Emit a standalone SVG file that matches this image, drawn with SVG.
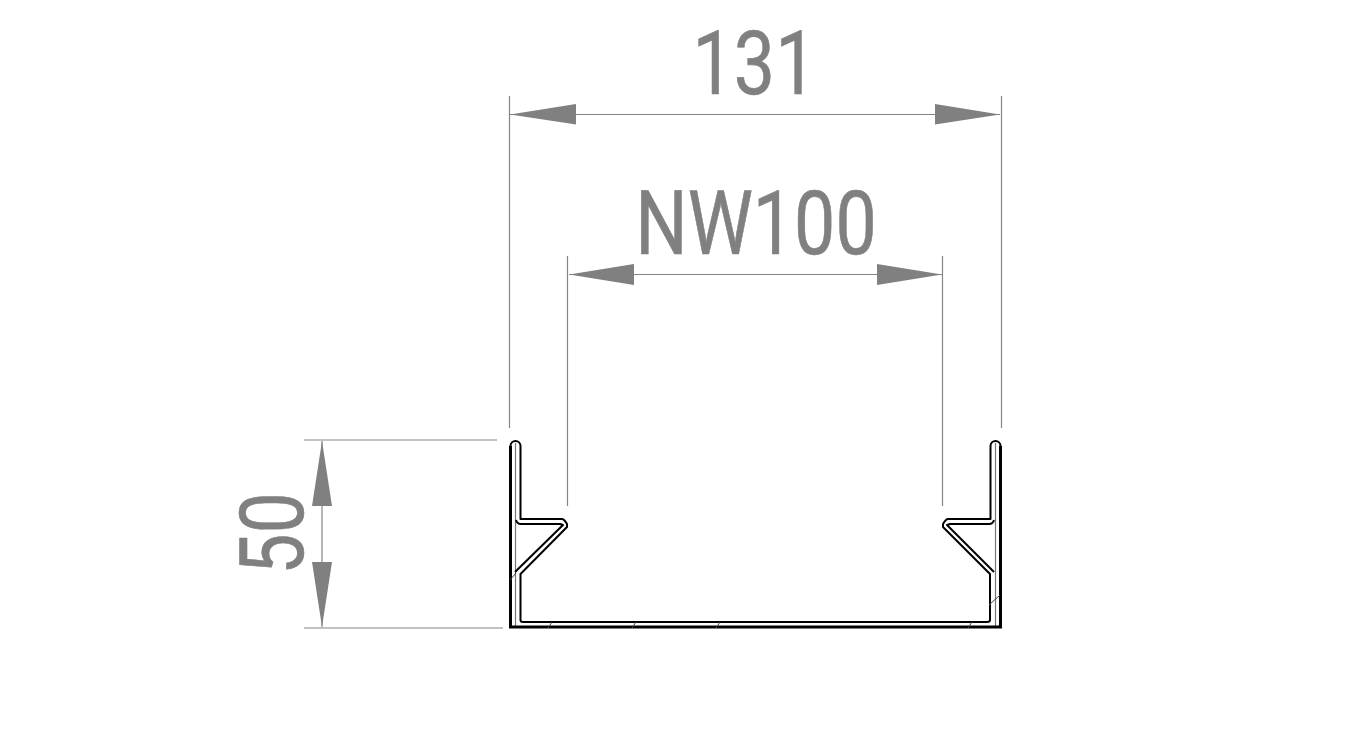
<svg xmlns="http://www.w3.org/2000/svg" width="1348" height="753" viewBox="0 0 1348 753">
<style>
.dim{stroke:#858585;stroke-width:1.200;fill:none}
.head{fill:#808080;stroke:none}
.t{font-family:Roboto,"Liberation Sans",Arial,sans-serif;font-size:89px;fill:#808080;stroke:#808080;stroke-width:.6;text-anchor:middle}
.k{stroke:#000;fill:none;stroke-width:2;stroke-linejoin:round}
.h{stroke:#000;fill:none;stroke-width:3}
.c{stroke:#000;fill:none;stroke-width:2}
.g{stroke:#777;fill:none;stroke-width:1.200}
.tick{stroke:#444;fill:none;stroke-width:1}
</style>
<rect width="1348" height="753" fill="#fff"/>
<g id="connectors">
<path class="dim" d="M509.500 96V428M1001.500 96V428M510 114.500H1000"/>
<path class="dim" d="M567.500 256V506M942.500 256V506M569 274.500H942"/>
<path class="dim" d="M304 440H497M304 628H503M322 441V627"/>
<path class="head" d="M510 114.500L576 104V124.500ZM1000 114.500L935 104V124.500Z"/>
<path class="head" d="M569 274.500L634 264V285ZM942 274.500L877 264V285Z"/>
<path class="head" d="M322 441L332 506H312ZM322 627L332 562H312Z"/>
</g>
<g id="label-131"><text class="t" transform="translate(754.500 94) scale(.825 1)">131</text></g>
<g id="label-nw100"><text class="t" transform="translate(756 254) scale(.825 1)">NW100</text></g>
<g id="label-50"><text class="t" transform="translate(302.500 533.500) rotate(-90) scale(.825 1)">50</text></g>
<g id="profile-left">
<path class="h" d="M510.500 627V446"/>
<path class="c" d="M510.500 446A5 5 0 0 1 520.500 446"/>
<path class="g" d="M515.500 443V627"/>
<path class="k" d="M520.500 446V519H562Q564 519 567 524V527L520.500 574V620Q520.500 622 523 622H755"/>
<path class="k" d="M516 520Q517 524 521 524H560L563 525L515 572"/>
<path class="h" d="M509 627H755"/>
<path class="tick" d="M510 580L516 573M548 628L552 622M632 628L636 622M716 628L720 622"/>
</g>
<g id="profile-right">
<path class="h" d="M1000.500 627V446"/>
<path class="c" d="M1000.500 446A5 5 0 0 0 990.500 446"/>
<path class="g" d="M995.500 443V627"/>
<path class="k" d="M990.500 446V519H948Q946 519 943 524V527L990 574V620Q990 622 987 622H755"/>
<path class="k" d="M994 520Q993 524 989 524H950L947 525L994 572"/>
<path class="h" d="M1002 627H755"/>
<path class="tick" d="M989 605L1000 595M968 628L972 622"/>
</g>
</svg>
